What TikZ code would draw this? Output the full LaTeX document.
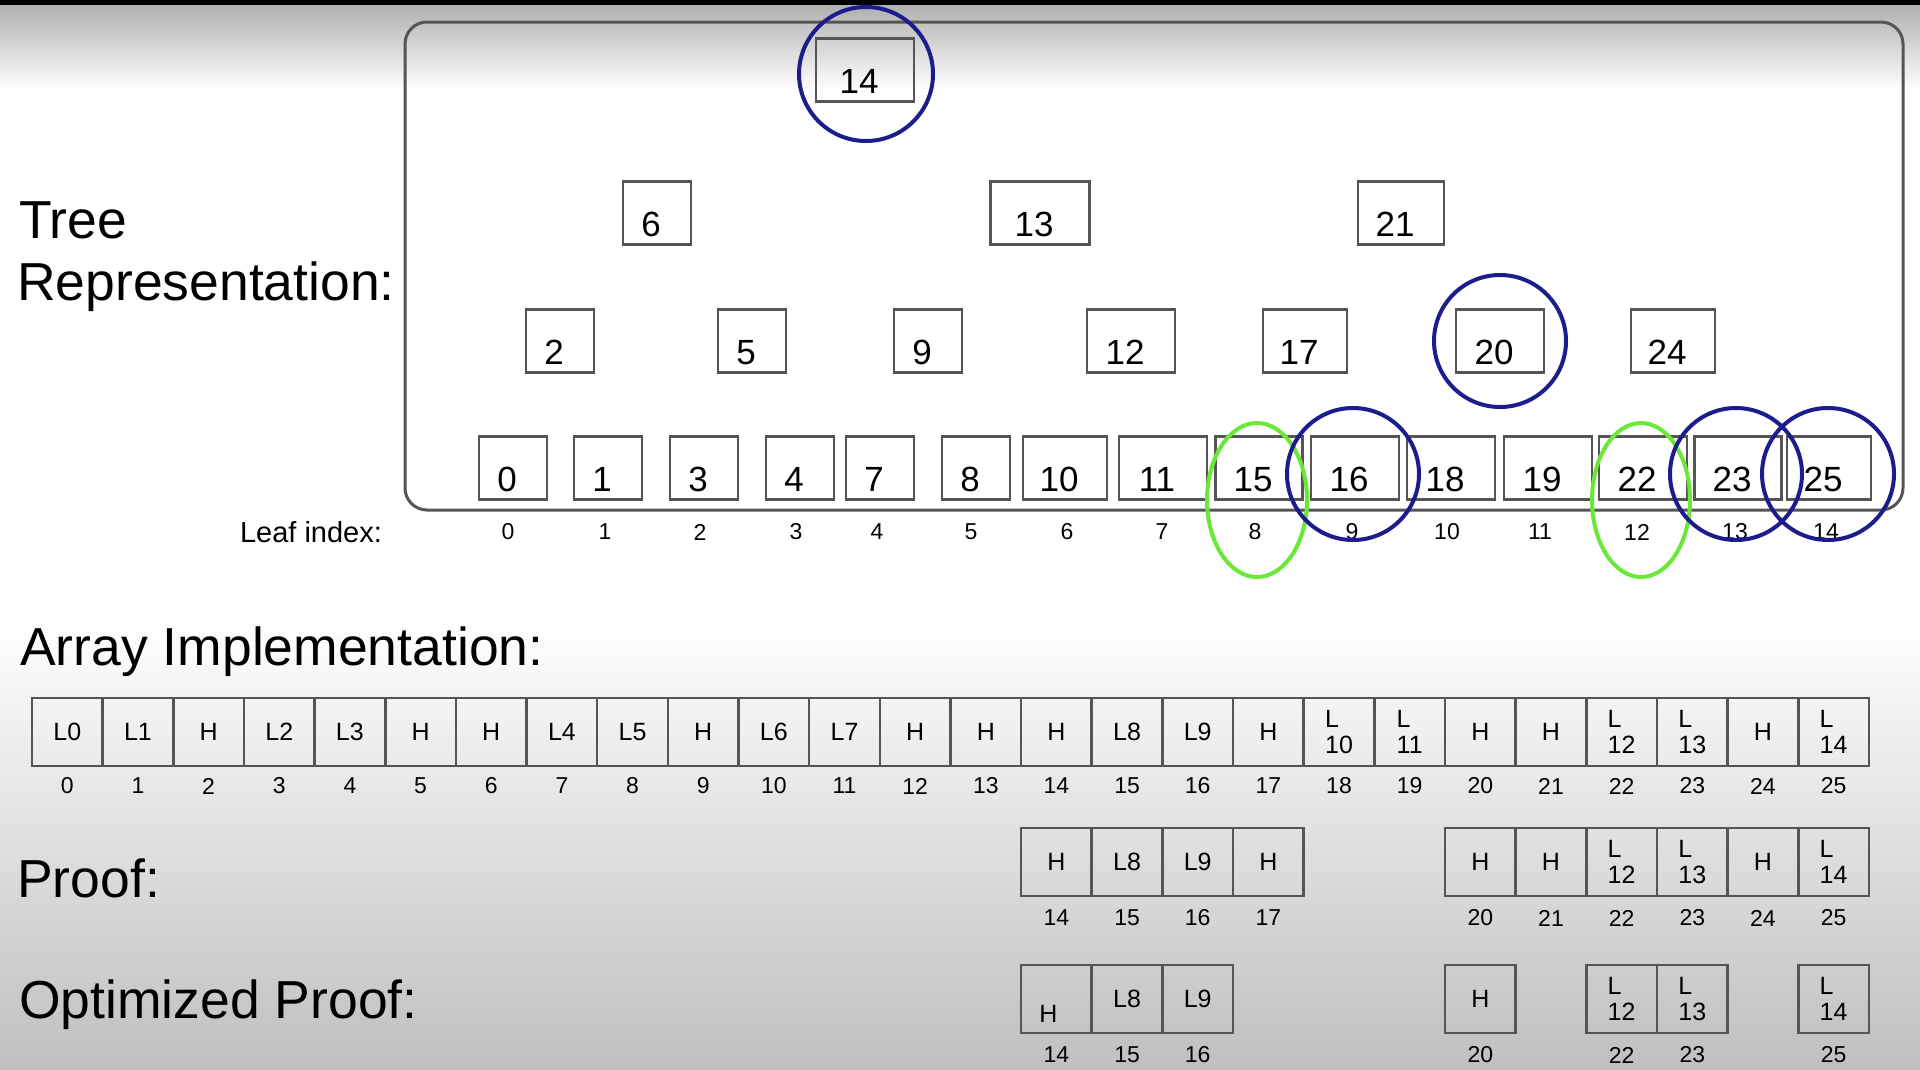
\documentclass[tikz,border=0pt]{standalone}
\usepackage{fontspec}
\setmainfont{Liberation Sans}
\usepackage{tikz}
\definecolor{boxgray}{RGB}{85,85,85}
\definecolor{ringblue}{RGB}{28,28,140}
\definecolor{ringgreen}{RGB}{105,232,55}

\begin{document}
\begin{tikzpicture}[x=1pt, y=-1pt,
  tbox/.style={draw=boxgray, line width=2.5pt, inner sep=0pt, minimum width=68pt, minimum height=63pt, text height=47pt, text depth=0pt, font=\fontsize{35}{42}\selectfont, execute at begin node={\hspace*{-12pt}}},
  wide/.style={minimum width=88pt},
  cell/.style={draw=boxgray, line width=2.5pt, inner sep=0pt, minimum width=70.65pt, minimum height=68pt, align=left, font=\fontsize{25}{26}\selectfont},
  idx/.style={inner sep=0pt, font=\fontsize{23}{26}\selectfont},
  title/.style={anchor=base west, inner sep=0pt, font=\fontsize{53.5}{63}\selectfont},
  bluering/.style={draw=ringblue, line width=4pt},
  greenring/.style={draw=ringgreen, line width=4pt}]
\useasboundingbox (0,0) rectangle (1920,1069);
\fill[white] (0,0) rectangle (1920,1069);
\fill[black] (0,0) rectangle (1920,5);
\shade[top color=black!31, bottom color=white] (0,5) rectangle (1920,90);
\shade[top color=white, bottom color=black!25] (0,620) rectangle (1920,1069);

\draw[boxgray, line width=3pt, rounded corners=22pt] (405,22) rectangle (1903,510);

\node[title] (ttree) at (19,238) {Tree};
\node[title] (trep) at (17,300) {Representation:};
\node[title] (tarray) at (20,665) {Array Implementation:};
\node[title] (tproof) at (17,897) {Proof:};
\node[title] (topt) at (19,1018) {Optimized Proof:};

\node[tbox, minimum width=98pt] (n14) at (865,70) {14};
\node[tbox] (n6) at (657,213) {6};
\node[tbox, minimum width=99pt] (n13) at (1040,213) {13};
\node[tbox, minimum width=86pt] (n21) at (1401,213) {21};
\node[tbox] (n2) at (560,341) {2};
\node[tbox] (n5) at (752,341) {5};
\node[tbox] (n9) at (928,341) {9};
\node[tbox, wide] (n12) at (1131,341) {12};
\node[tbox, minimum width=84pt] (n17) at (1305,341) {17};
\node[tbox, wide] (n20) at (1500,341) {20};
\node[tbox, minimum width=84pt] (n24) at (1673,341) {24};

\node[tbox] (n0) at (513,468) {0};
\node[tbox] (n1) at (608,468) {1};
\node[tbox] (n3) at (704,468) {3};
\node[tbox] (n4) at (800,468) {4};
\node[tbox] (n7) at (880,468) {7};
\node[tbox] (n8) at (976,468) {8};
\node[tbox, minimum width=84pt] (n10) at (1065,468) {10};
\node[tbox, wide] (n11) at (1163,468) {11};
\node[tbox, minimum width=87pt] (n15) at (1259,468) {15};
\node[tbox, wide] (n16) at (1355,468) {16};
\node[tbox, wide] (n18) at (1451,468) {18};
\node[tbox, wide] (n19) at (1548,468) {19};
\node[tbox, wide] (n22) at (1643,468) {22};
\node[tbox, minimum width=87pt] (n23) at (1738,468) {23};
\node[tbox, minimum width=84pt] (n25) at (1829,468) {25};

\node[idx, font=\fontsize{29}{32}\selectfont] (leafidx) at (311,532) {Leaf index:};
\node[idx] (li0) at (508,532) {0};
\node[idx] (li1) at (605,532) {1};
\node[idx] (li2) at (700,532) {2};
\node[idx] (li3) at (796,532) {3};
\node[idx] (li4) at (877,532) {4};
\node[idx] (li5) at (971,532) {5};
\node[idx] (li6) at (1067,532) {6};
\node[idx] (li7) at (1162,532) {7};
\node[idx] (li8) at (1255,532) {8};
\node[idx] (li9) at (1352,532) {9};
\node[idx] (li10) at (1447,532) {10};
\node[idx] (li11) at (1540,532) {11};
\node[idx] (li12) at (1637,532) {12};
\node[idx] (li13) at (1735,532) {13};
\node[idx] (li14) at (1826,532) {14};

\draw[bluering] (866,74) circle (67pt);
\draw[bluering] (1500,341) circle (66pt);
\draw[greenring] (1257,500) ellipse [x radius=50pt, y radius=77pt];
\draw[greenring] (1641,500) ellipse [x radius=49pt, y radius=77pt];
\draw[bluering] (1353,474) circle (66pt);
\draw[bluering] (1736,474) circle (66pt);
\draw[bluering] (1828,474) circle (66pt);

\node[cell] (a0) at (67.3,732) {L0};
\node[cell] (a1) at (138.0,732) {L1};
\node[cell] (a2) at (208.6,732) {H};
\node[cell] (a3) at (279.3,732) {L2};
\node[cell] (a4) at (349.9,732) {L3};
\node[cell] (a5) at (420.6,732) {H};
\node[cell] (a6) at (491.2,732) {H};
\node[cell] (a7) at (561.9,732) {L4};
\node[cell] (a8) at (632.5,732) {L5};
\node[cell] (a9) at (703.2,732) {H};
\node[cell] (a10) at (773.8,732) {L6};
\node[cell] (a11) at (844.5,732) {L7};
\node[cell] (a12) at (915.1,732) {H};
\node[cell] (a13) at (985.8,732) {H};
\node[cell] (a14) at (1056.4,732) {H};
\node[cell] (a15) at (1127.1,732) {L8};
\node[cell] (a16) at (1197.7,732) {L9};
\node[cell] (a17) at (1268.4,732) {H};
\node[cell] (a18) at (1339.0,732) {L\\10};
\node[cell] (a19) at (1409.7,732) {L\\11};
\node[cell] (a20) at (1480.3,732) {H};
\node[cell] (a21) at (1551.0,732) {H};
\node[cell] (a22) at (1621.6,732) {L\\12};
\node[cell] (a23) at (1692.3,732) {L\\13};
\node[cell] (a24) at (1762.9,732) {H};
\node[cell] (a25) at (1833.6,732) {L\\14};

\node[idx] (ai0) at (67.3,786) {0};
\node[idx] (ai1) at (138.0,786) {1};
\node[idx] (ai2) at (208.6,786) {2};
\node[idx] (ai3) at (279.3,786) {3};
\node[idx] (ai4) at (349.9,786) {4};
\node[idx] (ai5) at (420.6,786) {5};
\node[idx] (ai6) at (491.2,786) {6};
\node[idx] (ai7) at (561.9,786) {7};
\node[idx] (ai8) at (632.5,786) {8};
\node[idx] (ai9) at (703.2,786) {9};
\node[idx] (ai10) at (773.8,786) {10};
\node[idx] (ai11) at (844.5,786) {11};
\node[idx] (ai12) at (915.1,786) {12};
\node[idx] (ai13) at (985.8,786) {13};
\node[idx] (ai14) at (1056.4,786) {14};
\node[idx] (ai15) at (1127.1,786) {15};
\node[idx] (ai16) at (1197.7,786) {16};
\node[idx] (ai17) at (1268.4,786) {17};
\node[idx] (ai18) at (1339.0,786) {18};
\node[idx] (ai19) at (1409.7,786) {19};
\node[idx] (ai20) at (1480.3,786) {20};
\node[idx] (ai21) at (1551.0,786) {21};
\node[idx] (ai22) at (1621.6,786) {22};
\node[idx] (ai23) at (1692.3,786) {23};
\node[idx] (ai24) at (1762.9,786) {24};
\node[idx] (ai25) at (1833.6,786) {25};

\node[cell] (p14) at (1056.4,862) {H};
\node[cell] (p15) at (1127.1,862) {L8};
\node[cell] (p16) at (1197.7,862) {L9};
\node[cell] (p17) at (1268.4,862) {H};
\node[cell] (p20) at (1480.3,862) {H};
\node[cell] (p21) at (1551.0,862) {H};
\node[cell] (p22) at (1621.6,862) {L\\12};
\node[cell] (p23) at (1692.3,862) {L\\13};
\node[cell] (p24) at (1762.9,862) {H};
\node[cell] (p25) at (1833.6,862) {L\\14};

\node[idx] (pi14) at (1056.4,918) {14};
\node[idx] (pi15) at (1127.1,918) {15};
\node[idx] (pi16) at (1197.7,918) {16};
\node[idx] (pi17) at (1268.4,918) {17};
\node[idx] (pi20) at (1480.3,918) {20};
\node[idx] (pi21) at (1551.0,918) {21};
\node[idx] (pi22) at (1621.6,918) {22};
\node[idx] (pi23) at (1692.3,918) {23};
\node[idx] (pi24) at (1762.9,918) {24};
\node[idx] (pi25) at (1833.6,918) {25};

\node[cell, label={[inner sep=0pt, font=\fontsize{25}{26}\selectfont, xshift=-8pt, yshift=-15pt]center:H}] (o14) at (1056.4,999) {};
\node[cell] (o15) at (1127.1,999) {L8};
\node[cell] (o16) at (1197.7,999) {L9};
\node[cell] (o20) at (1480.3,999) {H};
\node[cell] (o22) at (1621.6,999) {L\\12};
\node[cell] (o23) at (1692.3,999) {L\\13};
\node[cell] (o25) at (1833.6,999) {L\\14};

\node[idx] (oi14) at (1056.4,1055) {14};
\node[idx] (oi15) at (1127.1,1055) {15};
\node[idx] (oi16) at (1197.7,1055) {16};
\node[idx] (oi20) at (1480.3,1055) {20};
\node[idx] (oi22) at (1621.6,1055) {22};
\node[idx] (oi23) at (1692.3,1055) {23};
\node[idx] (oi25) at (1833.6,1055) {25};
\end{tikzpicture}
\end{document}
